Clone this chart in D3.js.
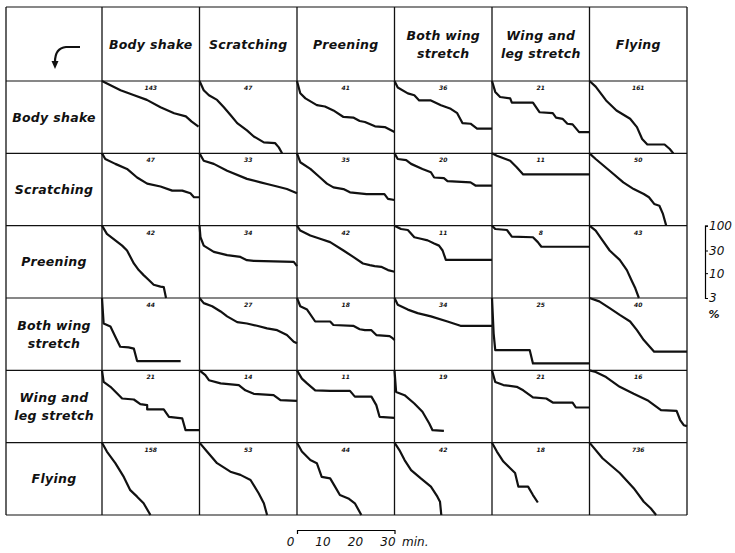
<!DOCTYPE html>
<html>
<head>
<meta charset="utf-8">
<script src="https://cdn.jsdelivr.net/npm/d3@7"></script>
<style>
  body { margin: 0; background: #fff; }
  svg text { font-family: 'DejaVu Sans', sans-serif; font-style: italic; fill: #111; }
</style>
</head>
<body>
<div id="chart"></div>
<script>
const width = 735
const height = 553

// behaviour acts: rows = act that came first, columns = act that follows
const categories = ['Body shake', 'Scratching', 'Preening', 'Both wing stretch', 'Wing and leg stretch', 'Flying']
const labelLines = [['Body shake'], ['Scratching'], ['Preening'], ['Both wing', 'stretch'], ['Wing and', 'leg stretch'], ['Flying']]

// number of intervals in each cell
const counts = [
  [143, 47, 41, 36, 21, 161],
  [47, 33, 35, 20, 11, 50],
  [42, 34, 42, 11, 8, 43],
  [44, 27, 18, 34, 25, 40],
  [21, 14, 11, 19, 21, 16],
  [158, 53, 44, 42, 18, 736]
]

// survivor curves, [minutes, % of intervals still running]
const bodyShakeCurves = [
  [[0, 100], [5.7, 64], [9.9, 50], [13.8, 40], [18, 28], [22.2, 21], [25.8, 18], [27.6, 14], [29.7, 11]],
  [[0, 100], [1.3, 64], [2.9, 50], [5.4, 40], [7.5, 28], [9.6, 19], [11.6, 13], [14.6, 9.1], [16.7, 6.8], [19.8, 5.1], [23.3, 4.9], [24.4, 4], [25.4, 3]],
  [[0, 100], [1, 55], [2.6, 43], [6.1, 31], [8.6, 29], [11.2, 24], [14.3, 17.5], [17.3, 17], [19.3, 14.4], [20.9, 13.7], [24, 11.1], [27, 10.7], [30, 8.4]],
  [[0, 100], [1, 73], [4.1, 55], [6.1, 50], [7.6, 39], [11.2, 39], [14.3, 31], [17.3, 26], [19.3, 21], [20.9, 13], [23.4, 12.6], [25.4, 9.9], [30, 9.9]],
  [[0, 100], [1, 59], [2.5, 46], [5.6, 43], [6.1, 35], [12.6, 35], [14.6, 22], [18.7, 21], [19.7, 17], [21.7, 16], [23.2, 12.6], [24.8, 12.2], [26.8, 8.4], [30, 8.4]],
  [[0, 100], [1.9, 76], [5.1, 39], [8.3, 24], [12.5, 16], [14.6, 10.7], [16.2, 6], [17.8, 4.6], [23.1, 4.6], [24.7, 3.7], [25.8, 3]]
]
const scratchingCurves = [
  [[0, 100], [1, 76], [4.1, 60], [7.7, 47], [10.8, 31], [13.9, 23], [18, 20], [21.6, 16.4], [24.7, 16.4], [27.2, 14.4], [28.3, 11.9], [30, 11.9]],
  [[0, 100], [1.3, 70], [4.4, 60], [8.5, 43], [14.6, 29], [18.8, 24.5], [20.8, 22.6], [23.9, 20], [26.9, 17.7], [30, 14.4]],
  [[0, 100], [1, 65], [4.1, 47], [7.1, 31], [9.2, 23], [11.2, 19.2], [14.3, 17.7], [16.3, 15.1], [21.4, 13.9], [26.9, 13.9], [28, 11], [30, 10.4]],
  [[0, 100], [1, 76], [3.6, 72], [5.1, 60], [8.6, 47], [11.2, 40], [12.2, 31], [15.2, 30], [16.3, 26], [23.4, 24.5], [24.9, 21], [30, 21]],
  [[0, 100], [1.5, 89], [5.6, 70], [7.6, 51], [9.6, 36], [30, 36]],
  [[0, 100], [1.9, 76], [6.2, 43], [10.4, 24.5], [13.6, 17.7], [16.7, 13.9], [18.3, 11.9], [19.9, 8.6], [21.5, 7.9], [22.6, 5.3], [23.6, 3]]
]
const preeningCurves = [
  [[0, 100], [1.5, 67], [4.1, 49], [6.2, 38], [7.7, 30], [9.8, 16], [11.3, 11.6], [12.8, 9.1], [14.4, 7.2], [15.9, 5.7], [18, 5.2], [19, 5.1], [19.7, 3]],
  [[0, 100], [0.3, 57], [1.3, 38], [4.4, 28], [8.5, 24], [12.6, 22], [14.6, 18.8], [16.7, 18.2], [29, 17.3], [30, 14.1]],
  [[0, 100], [1, 79], [4.1, 62], [7.1, 53], [10.2, 45], [14.3, 30], [17.3, 22], [20.3, 16], [22.4, 14.8], [23.9, 14.1], [25.9, 13.6], [28, 11.6], [30, 10.7]],
  [[0, 100], [2, 85], [4.1, 81], [6.1, 57], [8.1, 53], [10.2, 49], [12.2, 42], [13.7, 38], [14.8, 30], [15.8, 19], [30, 19]],
  [[0, 100], [1, 85], [4.6, 81], [6.1, 59], [12.6, 57], [14.1, 45], [15.2, 36], [30, 36]],
  [[0, 100], [1.9, 79], [4, 49], [6.2, 30], [9.3, 19], [11.5, 11.6], [13.1, 6.7], [14.1, 4.8], [15.2, 3]]
]
const bothWingCurves = [
  [[0, 100], [0.5, 29], [2.6, 25], [4.1, 15.3], [5.6, 9.4], [8.2, 9.1], [9.8, 8.6], [10.8, 4.7], [24.2, 4.7]],
  [[0, 100], [1.3, 78], [3.9, 67], [6.5, 52], [8.5, 41], [11.6, 31], [14.6, 29], [17.7, 26], [20.8, 23], [23.9, 21], [26.9, 16.6], [29, 12], [30, 11.1]],
  [[0, 100], [1, 67], [3.1, 57], [5.6, 32], [10.2, 32], [11.2, 27], [17.3, 26], [19.3, 22], [20.9, 21], [22.9, 21], [24.4, 16.6], [28.5, 15.8], [29.5, 14.1], [30, 13]],
  [[0, 100], [1, 72], [4.1, 57], [7.1, 48], [11.2, 41], [16.3, 32], [20.3, 26], [30, 26]],
  [[0, 100], [0.5, 18], [1, 8], [11.6, 8], [12.6, 4.2], [30, 4.2]],
  [[0, 100], [3, 85], [6.2, 61], [9.3, 44], [12.5, 32], [14.6, 21], [16.7, 13], [19.9, 7.4], [30, 7.4]]
]
const wingLegCurves = [
  [[0, 100], [0.5, 57], [2.6, 45], [6.2, 25.5], [9.8, 24.3], [11.8, 19.4], [13.9, 18.5], [13.9, 15], [19, 15], [20.6, 10.5], [24.7, 9.7], [25.7, 5.5], [30, 5.5]],
  [[0, 100], [1.8, 79], [2.9, 62], [6.5, 53], [12.1, 49], [14.1, 38], [16.7, 32], [22.8, 30], [24.9, 23.5], [30, 22.8]],
  [[0, 100], [1.5, 67], [3.1, 53], [5.6, 38], [10.2, 37], [16.3, 37], [17.8, 28], [22.9, 28], [24.4, 18.5], [25.4, 10.5], [30, 10]],
  [[0, 100], [0.5, 35], [3.1, 30], [6.1, 20], [8.6, 13.4], [10.7, 7.6], [11.7, 5.5], [15.2, 5.3]],
  [[0, 100], [1, 57], [3.5, 49], [7.6, 45], [9.6, 38], [12.6, 27], [16.7, 25.5], [18.7, 21], [24.8, 21], [25.8, 16.5], [30, 16.5]],
  [[0, 100], [1.9, 92], [5.1, 72], [9.3, 45], [13.6, 32], [17.8, 23.5], [19.9, 18.5], [22, 14.5], [26.8, 14], [27.9, 9], [29, 7], [30, 6.7]]
]
const flyingCurves = [
  [[0, 100], [1.5, 65], [4.1, 37], [6.7, 19], [8.7, 10], [10.8, 7.3], [12.8, 5.3], [14.9, 3]],
  [[0, 100], [2.3, 65], [5.4, 37], [9.5, 24.5], [12.6, 21], [15.7, 16.4], [18.2, 8.6], [19.8, 5.3], [20.8, 3]],
  [[0, 100], [1.5, 65], [4.1, 43], [6.1, 37], [7.6, 19], [10.2, 17.7], [11.7, 11.9], [13.2, 7.9], [15.8, 6.7], [17.8, 5.3], [19.8, 3]],
  [[0, 100], [1.5, 70], [3.1, 43], [5.1, 26.5], [8.1, 17.7], [11.2, 11.9], [13.2, 7.3], [14, 5.7], [14.4, 3]],
  [[0, 100], [1.5, 65], [3.5, 40], [5.6, 29], [7.1, 23], [8.1, 11.9], [11.1, 11.9], [12.6, 7.9], [14.1, 5.5]],
  [[0, 100], [4, 47], [9.3, 23], [13.6, 11], [16.7, 5.7], [18.9, 4.1], [20.5, 3]]
]
const curves = [bodyShakeCurves, scratchingCurves, preeningCurves, bothWingCurves, wingLegCurves, flyingCurves]

const yTicks = [100, 30, 10, 3]
const xTicks = [0, 10, 20, 30]

const svg = d3.select('#chart').append('svg')
  .attr('width', width)
  .attr('height', height)

// Scales
const col = d3.scaleBand().domain(categories).range([102, 687])
const row = d3.scaleBand().domain(categories).range([81, 515])
const x = d3.scaleLinear().domain([0, 30]).range([0, col.bandwidth()])
const y = d3.scaleLog().domain([3, 100]).range([row.bandwidth(), 0])

// grid
const grid = svg.append('g').attr('stroke', '#111').attr('fill', 'none')
const hLines = [7, 81].concat(categories.map((c) => row(c) + row.bandwidth()))
const vLines = [6, 102].concat(categories.map((c) => col(c) + col.bandwidth()))
grid.selectAll('line.h').data(hLines).join('line')
  .attr('class', 'h')
  .attr('x1', 6).attr('x2', 687)
  .attr('y1', (d) => d).attr('y2', (d) => d)
  .attr('stroke-width', 1.1)
grid.selectAll('line.v').data(vLines).join('line')
  .attr('class', 'v')
  .attr('y1', 7).attr('y2', 515)
  .attr('x1', (d) => d).attr('x2', (d) => d)
  .attr('stroke-width', 1.3)

// column and row headings
const writeLabel = (g, lines) => {
  g.selectAll('text').data(lines).join('text')
    .attr('text-anchor', 'middle')
    .attr('y', (d, i) => (i - (lines.length - 1) / 2) * 18)
    .attr('dy', '0.35em')
    .style('font-size', '12.5px')
    .style('font-weight', 'bold')
    .style('letter-spacing', '0.3px')
    .text((d) => d)
}
categories.forEach((c, i) => {
  writeLabel(svg.append('g').attr('transform', `translate(${col(c) + col.bandwidth() / 2},45)`), labelLines[i])
  writeLabel(svg.append('g').attr('transform', `translate(54,${row(c) + row.bandwidth() / 2})`), labelLines[i])
})

// arrow in the corner
svg.append('path')
  .attr('d', 'M80,47 L66,47 Q55,48 55,62')
  .attr('fill', 'none').attr('stroke', '#111').attr('stroke-width', 2.2)
svg.append('path')
  .attr('d', 'M51.5,61 L58.5,61 L55,69 Z')
  .attr('fill', '#111')

// cells
const line = d3.line()
  .x((d) => x(d[0]))
  .y((d) => y(Math.max(d[1], 3)))

categories.forEach((r, ri) => {
  categories.forEach((c, ci) => {
    const cell = svg.append('g').attr('transform', `translate(${col(c)},${row(r)})`)
    cell.append('path')
      .datum(curves[ri][ci])
      .attr('d', line)
      .attr('fill', 'none')
      .attr('stroke', '#111')
      .attr('stroke-width', 2.2)
      .attr('stroke-linejoin', 'round')
    cell.append('text')
      .attr('x', col.bandwidth() / 2)
      .attr('y', 9)
      .attr('text-anchor', 'middle')
      .style('font-size', '6px')
      .style('font-weight', 'bold')
      .text(counts[ri][ci])
  })
})

// scale keys
const yAxis = svg.append('g')
  .attr('transform', `translate(705,${row('Preening')})`)
  .call(d3.axisRight(y).tickValues(yTicks).tickSize(3).tickPadding(1).tickFormat(d3.format('d')))
yAxis.selectAll('text').style('font-size', '12px')
yAxis.select('.domain').attr('stroke-width', 1.2)

svg.append('text')
  .attr('x', 714).attr('y', 318)
  .attr('text-anchor', 'middle')
  .style('font-size', '11px')
  .style('font-weight', 'bold')
  .text('%')

const xAxis = svg.append('g')
  .attr('transform', `translate(${col('Preening')},530)`)
  .call(d3.axisBottom(x).tickValues(xTicks).tickSizeInner(0).tickSizeOuter(4).tickPadding(7))
xAxis.selectAll('text').attr('dx', -7).style('font-size', '12px')
xAxis.select('.domain').attr('stroke-width', 1.2)

svg.append('text')
  .attr('x', 402).attr('y', 537)
  .attr('dy', '0.71em')
  .style('font-size', '12px')
  .text('min.')
</script>
</body>
</html>
